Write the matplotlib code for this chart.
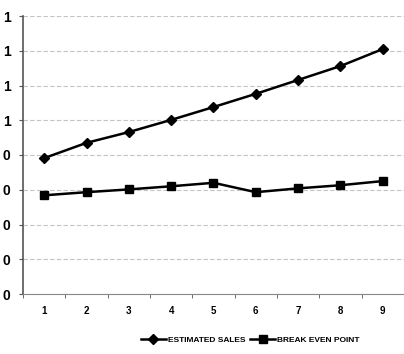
import matplotlib
matplotlib.use("Agg")
import matplotlib.pyplot as plt

# values (in grid units, 0..8)
periods = [1, 2, 3, 4, 5, 6, 7, 8, 9]
estimated_sales = [3.91, 4.35, 4.66, 5.01, 5.38, 5.76, 6.16, 6.56, 7.05]
break_even = [2.84, 2.93, 3.01, 3.10, 3.20, 2.93, 3.04, 3.13, 3.25]
y_ticks = [0, 1, 2, 3, 4, 5, 6, 7, 8]
y_tick_labels = ["0", "0", "0", "0", "0", "1", "1", "1", "1"]

plt.rcParams['font.family'] = ['Liberation Sans Narrow', 'Liberation Sans', 'DejaVu Sans']

fig = plt.figure(figsize=(4.04, 3.54), dpi=100)
ax = fig.add_axes([23 / 404, 1 - 294 / 354, 381 / 404, 278 / 354])

ax.plot(periods, estimated_sales, color='black', linewidth=1.8, marker='D',
        markersize=5, label='ESTIMATED SALES')
ax.plot(periods, break_even, color='black', linewidth=1.8, marker='s',
        markersize=6, label='BREAK EVEN POINT')

ax.set_xlim(0.5, 9.5)
ax.set_ylim(0, 8)

# horizontal grid lines
ax.set_yticks(y_ticks)
ax.set_yticklabels(y_tick_labels, fontsize=10, fontweight='bold')
ax.yaxis.grid(True, color='#c4c4c4', linestyle=(0, (4, 2)), linewidth=0.8)
ax.set_axisbelow(True)

ax.set_xticks(periods)
ax.set_xticklabels([str(p) for p in periods], fontsize=7, fontweight='bold')
ax.tick_params(axis='x', length=0, pad=9)
ax.set_xticks([p + 0.5 for p in periods[:-1]] + [0.5], minor=True)
ax.tick_params(axis='x', which='minor', length=3, color='#555555')
ax.tick_params(axis='y', length=3, color='#555555', pad=6)

for side in ['top', 'right']:
    ax.spines[side].set_visible(False)
ax.spines['left'].set_color('#555555')
ax.spines['bottom'].set_color('#888888')
ax.spines['left'].set_linewidth(1.2)

leg = fig.legend(loc='center', bbox_to_anchor=(250 / 404, 1 - 340 / 354), ncol=2,
                 frameon=False, handlelength=3, columnspacing=0.6,
                 handletextpad=0.2, prop={'weight': 'bold', 'size': 6})

fig.savefig('out.png', dpi=100)
